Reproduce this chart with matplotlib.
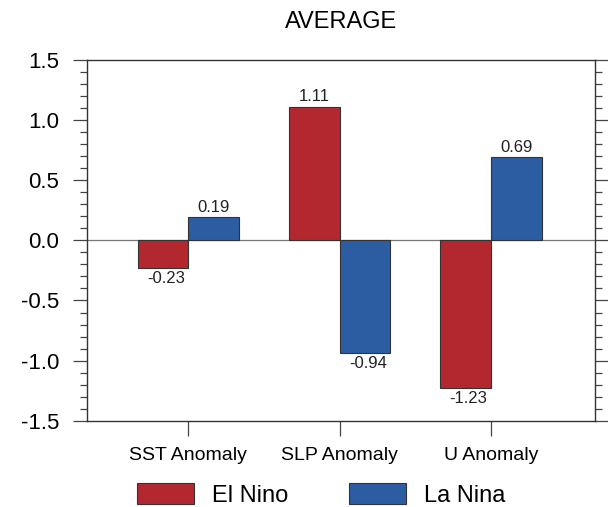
import numpy as np
from matplotlib import pyplot as plt
from matplotlib.ticker import MultipleLocator

plt.rcParams['font.family'] = ['Liberation Sans', 'DejaVu Sans']

# data
categories = ['SST Anomaly', 'SLP Anomaly', 'U Anomaly']
el_nino = [-0.23, 1.11, -1.23]
la_nina = [0.19, -0.94, 0.69]
series_names = ['El Nino', 'La Nina']

red = '#B3282F'
blue = '#2C5DA3'
edge = '#333333'

fig = plt.figure(figsize=(6.08, 5.07), dpi=100)
ax = fig.add_axes([0.143, 0.170, 0.836, 0.712])

x = np.arange(1, len(categories) + 1)
w = 0.335
b1 = ax.bar(x - w / 2, el_nino, w, color=red, edgecolor=edge, linewidth=0.8, label=series_names[0])
b2 = ax.bar(x + w / 2, la_nina, w, color=blue, edgecolor=edge, linewidth=0.8, label=series_names[1])

ax.axhline(0, color='#777777', lw=0.9, zorder=0)

# value labels above / below each bar
for bars, vals in ((b1, el_nino), (b2, la_nina)):
    for rect, v in zip(bars, vals):
        cx = rect.get_x() + rect.get_width() / 2
        if v >= 0:
            ax.annotate('%.2f' % v, (cx, v), xytext=(0, 2), textcoords='offset points',
                        ha='center', va='bottom', fontsize=12, color='#222222')
        else:
            ax.annotate('%.2f' % v, (cx, v), xytext=(2, -2), textcoords='offset points',
                        ha='center', va='top', fontsize=12, color='#222222')

ax.set_xlim(0.33, 3.69)
ax.set_ylim(-1.5, 1.5)
ax.set_xticks(x)
ax.set_xticklabels(categories, fontsize=14)
yt = np.arange(-1.5, 1.51, 0.5)
ax.set_yticks(yt)
ax.set_yticklabels(['%.1f' % t for t in yt], fontsize=16)
ax.yaxis.set_minor_locator(MultipleLocator(0.1))

ax.tick_params(axis='y', which='major', direction='out', length=10, width=0.9,
               color='#444444', left=True, right=True, pad=10)
ax.tick_params(axis='y', which='minor', direction='out', length=5, width=0.9,
               color='#444444', left=True, right=True)
ax.tick_params(axis='x', which='major', direction='out', length=11, width=0.9,
               color='#444444', pad=8)
for s in ax.spines.values():
    s.set_color('#333333')
    s.set_linewidth(1.0)

ax.set_title('AVERAGE', fontsize=17, pad=23)

fig.legend(handles=[b1, b2], labels=series_names, loc='lower left',
           bbox_to_anchor=(137 / 608, 0.0), ncol=2, frameon=False, fontsize=17,
           borderpad=0, borderaxespad=0,
           handlelength=2.4, handleheight=1.0, handletextpad=0.76, columnspacing=2.6)

fig.savefig('out.png', dpi=100)
